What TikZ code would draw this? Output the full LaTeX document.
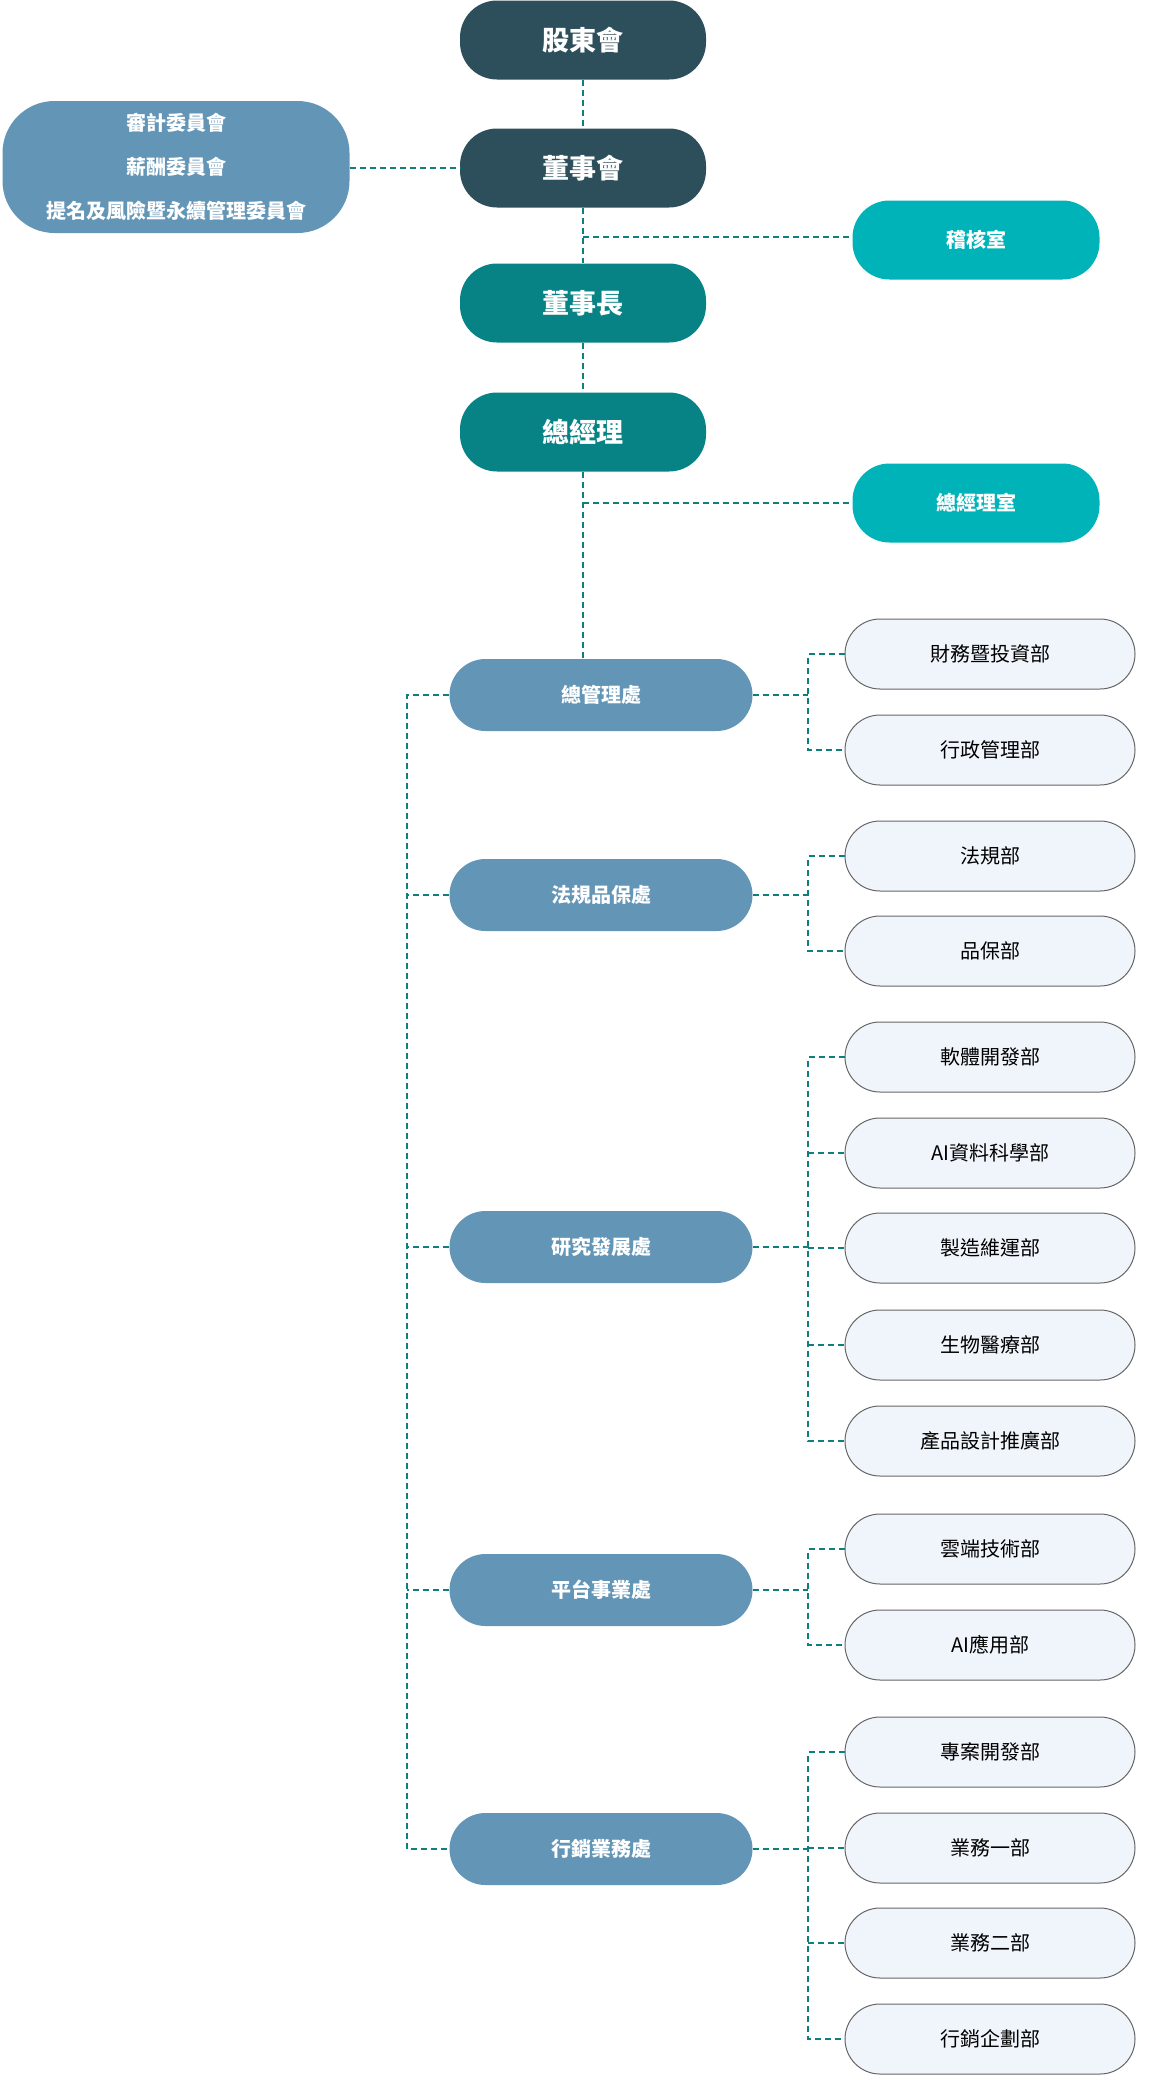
\documentclass[tikz,border=0pt]{standalone}
\usepackage{fontspec}
\setmainfont{Noto Sans CJK TC}
\begin{document}
\begin{tikzpicture}[x=1pt,y=-1pt,
  conn/.style={draw=lineteal,line width=2pt,dash pattern=on 6pt off 4pt},
  topbox/.style={rounded corners=37pt,minimum width=246pt,minimum height=79pt,inner sep=0pt,text=white,font=\fontsize{27}{30}\selectfont\bfseries},
  darkbox/.style={topbox,fill=darknavy},
  tealbox/.style={topbox,fill=darkteal},
  cyanbox/.style={rounded corners=37pt,minimum width=247pt,minimum height=79pt,inner sep=0pt,fill=brightcyan,text=white,font=\fontsize{20}{24}\selectfont\bfseries},
  divbox/.style={rounded corners=36pt,minimum width=303pt,minimum height=72pt,inner sep=0pt,fill=steel,text=white,font=\fontsize{20}{24}\selectfont\bfseries},
  deptbox/.style={rounded corners=35pt,minimum width=290pt,minimum height=70pt,inner sep=0pt,fill=deptfill,draw=deptline,line width=1pt,text=black,font=\fontsize{20}{24}\selectfont}
]
\definecolor{darknavy}{HTML}{2D4F5B}
\definecolor{darkteal}{HTML}{088385}
\definecolor{brightcyan}{HTML}{00B3B9}
\definecolor{steel}{HTML}{6395B6}
\definecolor{deptfill}{HTML}{F0F5FC}
\definecolor{deptline}{HTML}{666666}
\definecolor{lineteal}{HTML}{0F7F7D}
\useasboundingbox (0,0) rectangle (1154,2080);

% top chain
\node[darkbox] (gd) at (583,40) {股東會};
\node[darkbox] (dsh) at (583,168) {董事會};
\node[tealbox] (dsz) at (583,303) {董事長};
\node[tealbox] (zjl) at (583,432) {總經理};
\node[rounded corners=52pt,minimum width=347pt,minimum height=132pt,inner sep=0pt,fill=steel,text=white,align=center,font=\fontsize{20}{44}\selectfont\bfseries] (cmt) at (176,167) {審計委員會\\薪酬委員會\\提名及風險暨永續管理委員會};
\node[cyanbox] (jhs) at (976,240) {稽核室};
\node[cyanbox] (zjls) at (976,503) {總經理室};

% divisions
\node[divbox] (b1) at (601,695) {總管理處};
\node[divbox] (b2) at (601,895) {法規品保處};
\node[divbox] (b3) at (601,1247) {研究發展處};
\node[divbox] (b4) at (601,1590) {平台事業處};
\node[divbox] (b5) at (601,1849) {行銷業務處};

% departments
\node[deptbox] (d1) at (990,654) {財務暨投資部};
\node[deptbox] (d2) at (990,750) {行政管理部};
\node[deptbox] (d3) at (990,856) {法規部};
\node[deptbox] (d4) at (990,951) {品保部};
\node[deptbox] (d5) at (990,1057) {軟體開發部};
\node[deptbox] (d6) at (990,1153) {AI資料科學部};
\node[deptbox] (d7) at (990,1248) {製造維運部};
\node[deptbox] (d8) at (990,1345) {生物醫療部};
\node[deptbox] (d9) at (990,1441) {產品設計推廣部};
\node[deptbox] (d10) at (990,1549) {雲端技術部};
\node[deptbox] (d11) at (990,1645) {AI應用部};
\node[deptbox] (d12) at (990,1752) {專案開發部};
\node[deptbox] (d13) at (990,1848) {業務一部};
\node[deptbox] (d14) at (990,1943) {業務二部};
\node[deptbox] (d15) at (990,2039) {行銷企劃部};

% central connectors
\draw[conn] (gd.south) -- (dsh.north);
\draw[conn] (dsh.south) -- (dsz.north);
\draw[conn] (dsz.south) -- (zjl.north);
\draw[conn] (zjl.south) -- (zjl.south |- b1.north);
\draw[conn] (cmt.east |- dsh.west) -- (dsh.west);
\coordinate (ja) at (583,237);
\coordinate (za) at (583,503);
\draw[conn] (ja) -- (jhs.west |- ja);
\draw[conn] (za) -- (zjls.west |- za);

% left spine
\coordinate (L) at (407,0);
\draw[conn] (b1.west) -- (b1.west -| L) -- (b5.west -| L) -- (b5.west);
\foreach \b in {b2,b3,b4} \draw[conn] (\b.west) -- (\b.west -| L);

% right spines
\coordinate (R) at (808,0);
\foreach \b/\f/\l in {b1/d1/d2,b2/d3/d4,b3/d5/d9,b4/d10/d11,b5/d12/d15}{
  \draw[conn] (\b.east) -- (\b.east -| R);
  \draw[conn] (\f.west) -- (\f.west -| R) -- (\l.west -| R) -- (\l.west);
}
\foreach \d in {d6,d7,d8,d13,d14} \draw[conn] (\d.west -| R) -- (\d.west);
\end{tikzpicture}
\end{document}
